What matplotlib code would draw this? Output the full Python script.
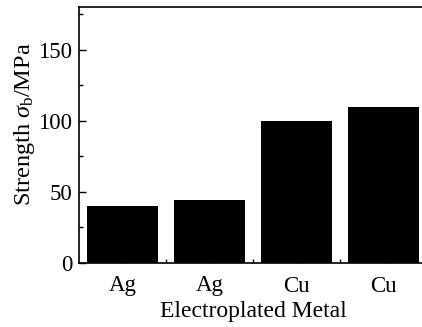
import matplotlib
matplotlib.use("Agg")
import matplotlib.pyplot as plt
from matplotlib.ticker import MultipleLocator, FixedLocator

plt.rcParams['font.family'] = ['Liberation Serif', 'DejaVu Serif']
plt.rcParams['mathtext.fontset'] = 'custom'
plt.rcParams['mathtext.rm'] = 'Liberation Serif'
plt.rcParams['mathtext.it'] = 'Liberation Serif:italic'

categories = ['Ag', 'Ag', 'Cu', 'Cu']
strength = [40, 44, 100, 110]

W, H = 422, 327
fig = plt.figure(figsize=(W/100, H/100), dpi=100)
ax = fig.add_axes([79/W, (H-263)/H, 348/W, (263-7)/H])

x = list(range(len(categories)))
ax.bar(x, strength, width=0.81, color='black')
ax.set_xlim(-0.5, 3.5)
ax.set_ylim(0, 180)
ax.set_xticks(x)
ax.set_xticklabels(categories)
ax.xaxis.set_minor_locator(FixedLocator([0.5, 1.5, 2.5]))
ax.yaxis.set_major_locator(MultipleLocator(50))
ax.yaxis.set_minor_locator(MultipleLocator(25))
ax.tick_params(which='both', direction='in', labelsize=16.5, width=1)
ax.tick_params(which='major', length=5)
ax.tick_params(which='minor', length=3)
ax.tick_params(axis='x', pad=9)
ax.tick_params(axis='y', pad=5)
for s in ax.spines.values():
    s.set_linewidth(1.2)
ax.set_ylabel(r'Strength $\sigma_{\rm b}$/MPa', fontsize=17.5, labelpad=1)
ax.yaxis.label.set_y(0.543)
ax.set_xlabel('Electroplated Metal', fontsize=17, labelpad=3)

fig.savefig('out.png', dpi=100)
